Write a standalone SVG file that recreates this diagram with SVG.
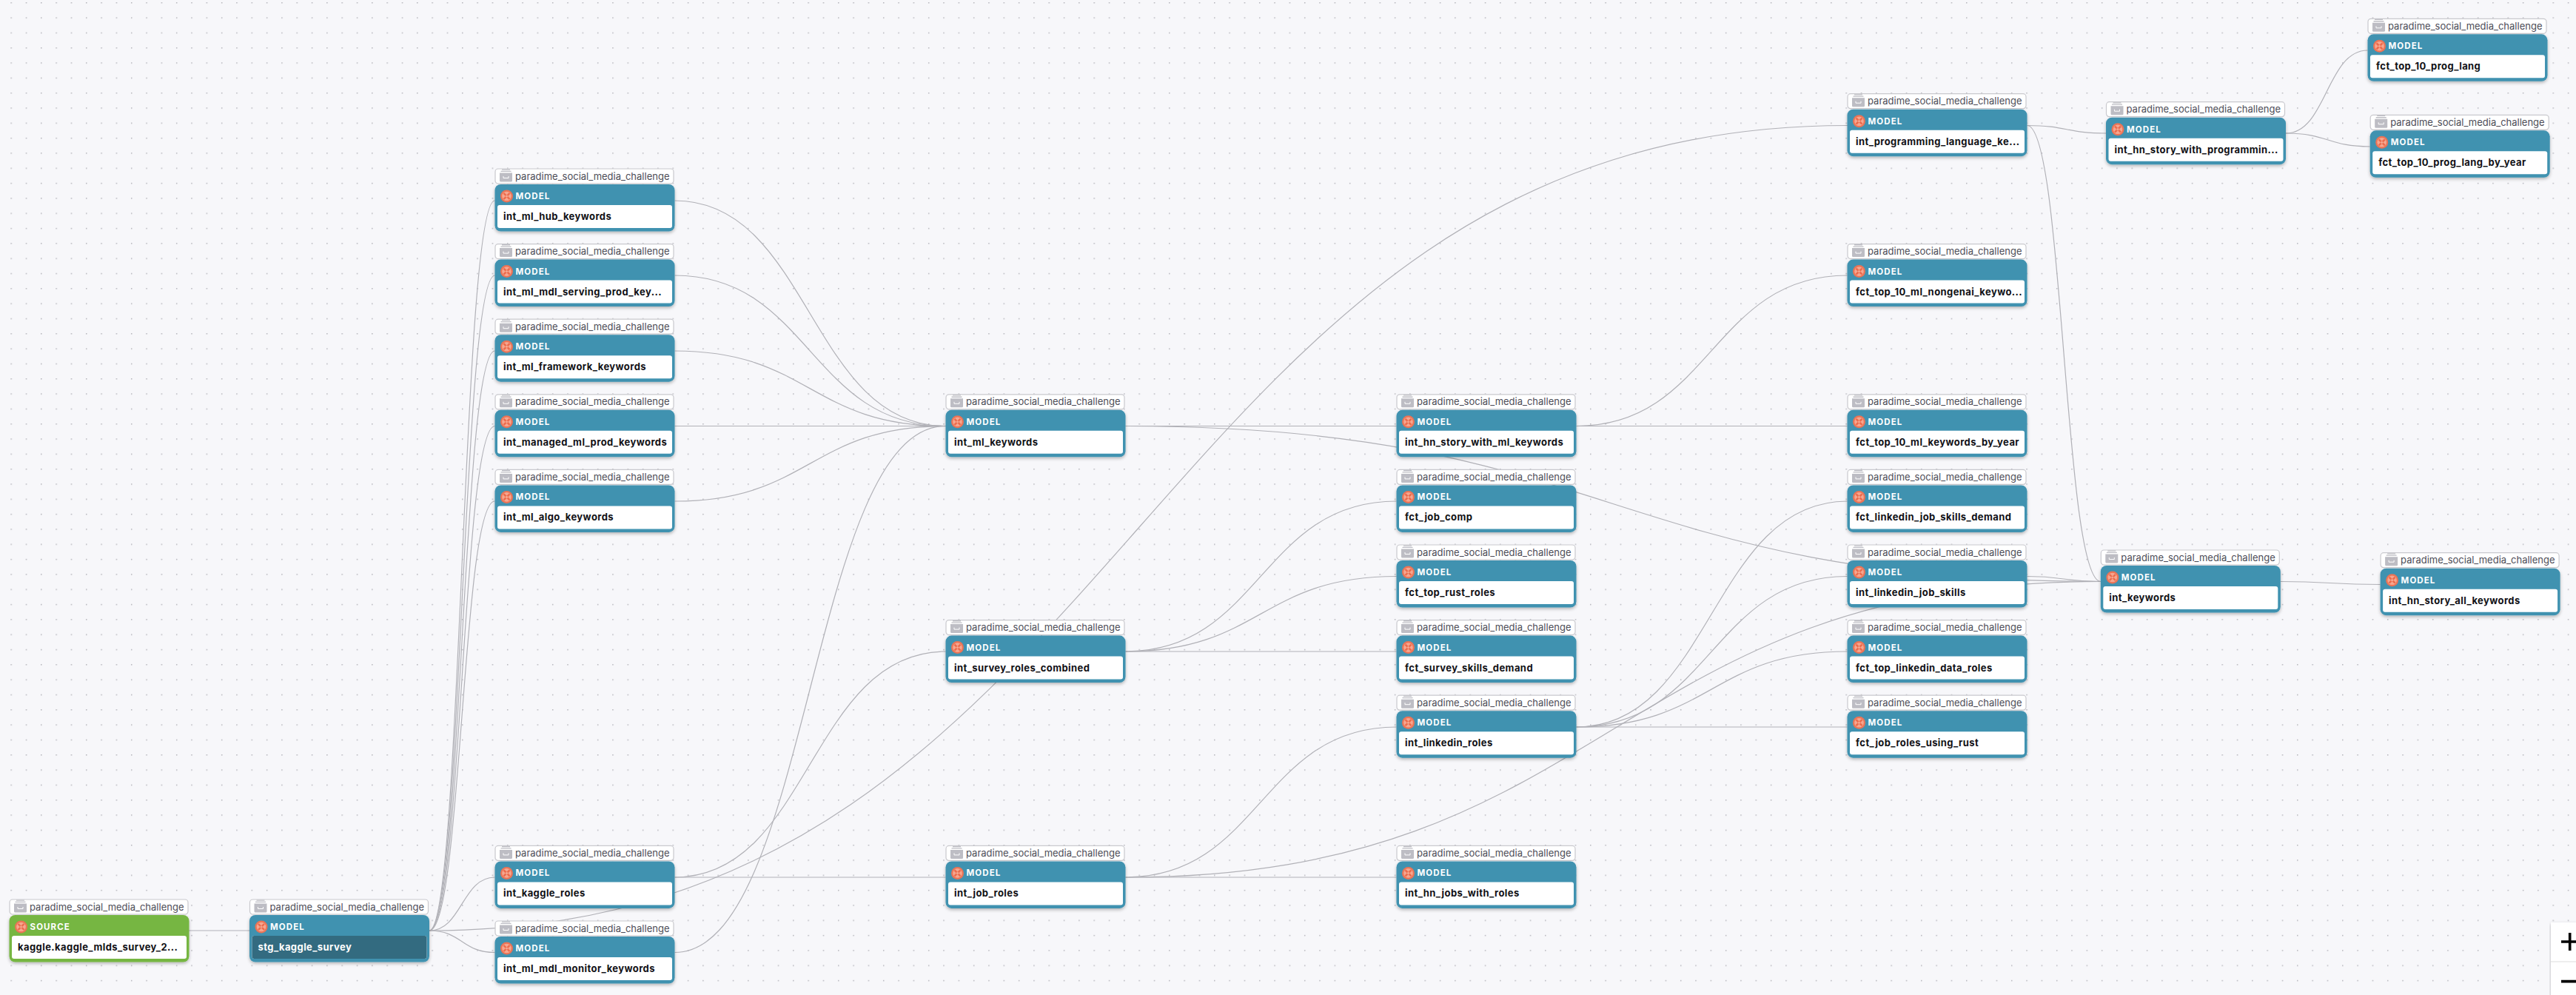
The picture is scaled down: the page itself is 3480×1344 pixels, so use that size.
<svg xmlns="http://www.w3.org/2000/svg" width="3480" height="1344" viewBox="0 0 3480 1344">
<style>
.e{fill:none;stroke:#b1b1b7;stroke-width:1.2}
.l{font:400 13px Inter,"Noto Sans",sans-serif;fill:#4d4d57}
.k{font:700 11.5px Inter,"Noto Sans",sans-serif;fill:#fff;letter-spacing:1.1px}
.n{font:700 13px Inter,"Noto Sans",sans-serif;fill:#111116;letter-spacing:.42px}
.w{fill:#fff}
</style>
<defs>
<pattern id="dots" patternUnits="userSpaceOnUse" x="14.4" y="3" width="20.32" height="20.32"><rect x="0" y="0" width="1.5" height="1.5" fill="#b4b4bb"/></pattern>
<filter id="sh" x="-5%" y="-10%" width="110%" height="125%"><feDropShadow dx="0" dy="2" stdDeviation="2" flood-color="#000" flood-opacity=".28"/></filter>
<g id="badge"><rect x=".5" y="-21" width="241" height="20" rx="4" fill="#fff" stroke="#c9c9ce" stroke-width="1.2"/><path d="M9.500-20.500h11v1.300h-11zM8-18.200h14v1.300H8z" fill="#bdbdc4"/><path d="M6.500-15.500h17v10.500a1.500 1.500 0 0 1-1.500 1.500H8a1.500 1.500 0 0 1-1.500-1.500z" fill="#bdbdc4"/><path d="M11.500-11v2.500h7V-11" fill="none" stroke="#fff" stroke-width="1"/></g>
<g id="icon"><circle cx="16" cy="16" r="8.500" fill="#ec7355"/><circle cx="16" cy="16" r="6.300" fill="#f6a68f"/><path d="M12 12l8 8M20 12l-8 8" stroke="#ec6a4b" stroke-width="2.400"/><circle cx="16" cy="16" r="1.600" fill="#f6a68f"/></g>
<g id="model"><use href="#badge"/><g filter="url(#sh)"><rect width="243" height="63.500" rx="8" fill="#3f92b0"/></g><rect x="3.500" y="28" width="236" height="31" rx="3" class="w"/><use href="#icon"/></g>
</defs>
<rect width="3480" height="1344" fill="#f7f7fa"/>
<rect width="3480" height="1344" fill="url(#dots)"/>
<g id="connectors">
<path class="e" d="M255 1257H337"/>
<path class="e" d="M580 1257C624 1257 624 271 668.500 271"/>
<path class="e" d="M580 1257C624 1257 624 372 668.500 372"/>
<path class="e" d="M580 1257C624 1257 624 474 668.500 474"/>
<path class="e" d="M580 1257C624 1257 624 575.500 668.500 575.500"/>
<path class="e" d="M580 1257C624 1257 624 677 668.500 677"/>
<path class="e" d="M580 1257C624 1257 624 1185 668.500 1185"/>
<path class="e" d="M580 1257C624 1257 624 1286.500 668.500 1286.500"/>
<path class="e" d="M580 1257C1538 1257 1538 169.500 2496 169.500"/>
<path class="e" d="M911.500 271C1094 271 1094 575.500 1277.500 575.500"/>
<path class="e" d="M911.500 372C1094 372 1094 575.500 1277.500 575.500"/>
<path class="e" d="M911.500 474C1094 474 1094 575.500 1277.500 575.500"/>
<path class="e" d="M911.500 575.500H1277.500"/>
<path class="e" d="M911.500 677C1094 677 1094 575.500 1277.500 575.500"/>
<path class="e" d="M911.500 1286.500C1094 1286.500 1094 575.500 1277.500 575.500"/>
<path class="e" d="M911.500 1185C1094 1185 1094 880 1277.500 880"/>
<path class="e" d="M911.500 1185H1277.500"/>
<path class="e" d="M1520.500 575.500H1886.500"/>
<path class="e" d="M1520.500 575.500C2179 575.500 2179 785.500 2838 785.500"/>
<path class="e" d="M1520.500 880C1703 880 1703 677 1886.500 677"/>
<path class="e" d="M1520.500 880C1703 880 1703 778.500 1886.500 778.500"/>
<path class="e" d="M1520.500 880H1886.500"/>
<path class="e" d="M1520.500 1185C1703 1185 1703 982 1886.500 982"/>
<path class="e" d="M1520.500 1185H1886.500"/>
<path class="e" d="M1520.500 1185C2179 1185 2179 785.500 2838 785.500"/>
<path class="e" d="M2129.500 575.500C2312 575.500 2312 372 2495.500 372"/>
<path class="e" d="M2129.500 575.500H2495.500"/>
<path class="e" d="M2129.500 982C2312 982 2312 677 2495.500 677"/>
<path class="e" d="M2129.500 982C2312 982 2312 778.500 2495.500 778.500"/>
<path class="e" d="M2129.500 982C2312 982 2312 880 2495.500 880"/>
<path class="e" d="M2129.500 982H2495.500"/>
<path class="e" d="M2738.500 778.500C2788 778.500 2788 785.500 2838 785.500"/>
<path class="e" d="M2738.500 169.500C2792 169.500 2792 180 2845 180"/>
<path class="e" d="M2738.500 169.500C2788 169.500 2788 785.500 2838 785.500"/>
<path class="e" d="M3088 180C3143 180 3143 68 3198.500 68"/>
<path class="e" d="M3088 180C3145 180 3145 198 3201.700 198"/>
<path class="e" d="M3081 785.500C3148 785.500 3148 789.500 3215.600 789.500"/>
</g>
<g id="kaggle_source" transform="translate(12.500 1236)"><use href="#badge"/><g filter="url(#sh)"><rect width="243" height="63.500" rx="8" fill="#76b643"/></g><rect x="3.500" y="28" width="236" height="31" rx="3" class="w"/><use href="#icon"/><text class="l" x="27.500" y="-6.500">paradime_social_media_challenge</text><text class="k" x="28" y="20">SOURCE</text><text class="n" x="11.500" y="48">kaggle.kaggle_mlds_survey_2...</text></g>
<g id="stg_kaggle_survey" transform="translate(337 1236)"><use href="#model"/><rect x="3.500" y="28" width="236" height="31" rx="3" fill="#336b80"/><text class="l" x="27.500" y="-6.500">paradime_social_media_challenge</text><text class="k" x="28" y="20">MODEL</text><text class="n" x="11.500" y="48" style="fill:#fff">stg_kaggle_survey</text></g>
<g id="int_ml_hub_keywords" transform="translate(668.500 249)"><use href="#model"/><text class="l" x="27.500" y="-6.500">paradime_social_media_challenge</text><text class="k" x="28" y="20">MODEL</text><text class="n" x="11.500" y="48">int_ml_hub_keywords</text></g>
<g id="int_ml_mdl_serving_prod_keywords" transform="translate(668.500 350.600)"><use href="#model"/><text class="l" x="27.500" y="-6.500">paradime_social_media_challenge</text><text class="k" x="28" y="20">MODEL</text><text class="n" x="11.500" y="48">int_ml_mdl_serving_prod_key...</text></g>
<g id="int_ml_framework_keywords" transform="translate(668.500 452.200)"><use href="#model"/><text class="l" x="27.500" y="-6.500">paradime_social_media_challenge</text><text class="k" x="28" y="20">MODEL</text><text class="n" x="11.500" y="48">int_ml_framework_keywords</text></g>
<g id="int_managed_ml_prod_keywords" transform="translate(668.500 553.800)"><use href="#model"/><text class="l" x="27.500" y="-6.500">paradime_social_media_challenge</text><text class="k" x="28" y="20">MODEL</text><text class="n" x="11.500" y="48">int_managed_ml_prod_keywords</text></g>
<g id="int_ml_algo_keywords" transform="translate(668.500 655.400)"><use href="#model"/><text class="l" x="27.500" y="-6.500">paradime_social_media_challenge</text><text class="k" x="28" y="20">MODEL</text><text class="n" x="11.500" y="48">int_ml_algo_keywords</text></g>
<g id="int_kaggle_roles" transform="translate(668.500 1163.400)"><use href="#model"/><text class="l" x="27.500" y="-6.500">paradime_social_media_challenge</text><text class="k" x="28" y="20">MODEL</text><text class="n" x="11.500" y="48">int_kaggle_roles</text></g>
<g id="int_ml_mdl_monitor_keywords" transform="translate(668.500 1265)"><use href="#model"/><text class="l" x="27.500" y="-6.500">paradime_social_media_challenge</text><text class="k" x="28" y="20">MODEL</text><text class="n" x="11.500" y="48">int_ml_mdl_monitor_keywords</text></g>
<g id="int_ml_keywords" transform="translate(1277.500 553.800)"><use href="#model"/><text class="l" x="27.500" y="-6.500">paradime_social_media_challenge</text><text class="k" x="28" y="20">MODEL</text><text class="n" x="11.500" y="48">int_ml_keywords</text></g>
<g id="int_survey_roles_combined" transform="translate(1277.500 858.600)"><use href="#model"/><text class="l" x="27.500" y="-6.500">paradime_social_media_challenge</text><text class="k" x="28" y="20">MODEL</text><text class="n" x="11.500" y="48">int_survey_roles_combined</text></g>
<g id="int_job_roles" transform="translate(1277.500 1163.400)"><use href="#model"/><text class="l" x="27.500" y="-6.500">paradime_social_media_challenge</text><text class="k" x="28" y="20">MODEL</text><text class="n" x="11.500" y="48">int_job_roles</text></g>
<g id="int_hn_story_with_ml_keywords" transform="translate(1886.500 553.800)"><use href="#model"/><text class="l" x="27.500" y="-6.500">paradime_social_media_challenge</text><text class="k" x="28" y="20">MODEL</text><text class="n" x="11.500" y="48">int_hn_story_with_ml_keywords</text></g>
<g id="fct_job_comp" transform="translate(1886.500 655.400)"><use href="#model"/><text class="l" x="27.500" y="-6.500">paradime_social_media_challenge</text><text class="k" x="28" y="20">MODEL</text><text class="n" x="11.500" y="48">fct_job_comp</text></g>
<g id="fct_top_rust_roles" transform="translate(1886.500 757)"><use href="#model"/><text class="l" x="27.500" y="-6.500">paradime_social_media_challenge</text><text class="k" x="28" y="20">MODEL</text><text class="n" x="11.500" y="48">fct_top_rust_roles</text></g>
<g id="fct_survey_skills_demand" transform="translate(1886.500 858.600)"><use href="#model"/><text class="l" x="27.500" y="-6.500">paradime_social_media_challenge</text><text class="k" x="28" y="20">MODEL</text><text class="n" x="11.500" y="48">fct_survey_skills_demand</text></g>
<g id="int_linkedin_roles" transform="translate(1886.500 960.200)"><use href="#model"/><text class="l" x="27.500" y="-6.500">paradime_social_media_challenge</text><text class="k" x="28" y="20">MODEL</text><text class="n" x="11.500" y="48">int_linkedin_roles</text></g>
<g id="int_hn_jobs_with_roles" transform="translate(1886.500 1163.400)"><use href="#model"/><text class="l" x="27.500" y="-6.500">paradime_social_media_challenge</text><text class="k" x="28" y="20">MODEL</text><text class="n" x="11.500" y="48">int_hn_jobs_with_roles</text></g>
<g id="int_programming_language_keywords" transform="translate(2495.500 147.700)"><use href="#model"/><text class="l" x="27.500" y="-6.500">paradime_social_media_challenge</text><text class="k" x="28" y="20">MODEL</text><text class="n" x="11.500" y="48">int_programming_language_ke...</text></g>
<g id="fct_top_10_ml_nongenai_keywords" transform="translate(2495.500 350.600)"><use href="#model"/><text class="l" x="27.500" y="-6.500">paradime_social_media_challenge</text><text class="k" x="28" y="20">MODEL</text><text class="n" x="11.500" y="48">fct_top_10_ml_nongenai_keywo...</text></g>
<g id="fct_top_10_ml_keywords_by_year" transform="translate(2495.500 553.800)"><use href="#model"/><text class="l" x="27.500" y="-6.500">paradime_social_media_challenge</text><text class="k" x="28" y="20">MODEL</text><text class="n" x="11.500" y="48">fct_top_10_ml_keywords_by_year</text></g>
<g id="fct_linkedin_job_skills_demand" transform="translate(2495.500 655.400)"><use href="#model"/><text class="l" x="27.500" y="-6.500">paradime_social_media_challenge</text><text class="k" x="28" y="20">MODEL</text><text class="n" x="11.500" y="48">fct_linkedin_job_skills_demand</text></g>
<g id="int_linkedin_job_skills" transform="translate(2495.500 757)"><use href="#model"/><text class="l" x="27.500" y="-6.500">paradime_social_media_challenge</text><text class="k" x="28" y="20">MODEL</text><text class="n" x="11.500" y="48">int_linkedin_job_skills</text></g>
<g id="fct_top_linkedin_data_roles" transform="translate(2495.500 858.600)"><use href="#model"/><text class="l" x="27.500" y="-6.500">paradime_social_media_challenge</text><text class="k" x="28" y="20">MODEL</text><text class="n" x="11.500" y="48">fct_top_linkedin_data_roles</text></g>
<g id="fct_job_roles_using_rust" transform="translate(2495.500 960.200)"><use href="#model"/><text class="l" x="27.500" y="-6.500">paradime_social_media_challenge</text><text class="k" x="28" y="20">MODEL</text><text class="n" x="11.500" y="48">fct_job_roles_using_rust</text></g>
<g id="int_hn_story_with_programming" transform="translate(2845 158.700)"><use href="#model"/><text class="l" x="27.500" y="-6.500">paradime_social_media_challenge</text><text class="k" x="28" y="20">MODEL</text><text class="n" x="11.500" y="48">int_hn_story_with_programmin...</text></g>
<g id="fct_top_10_prog_lang" transform="translate(3198.500 46.300)"><use href="#model"/><text class="l" x="27.500" y="-6.500">paradime_social_media_challenge</text><text class="k" x="28" y="20">MODEL</text><text class="n" x="11.500" y="48">fct_top_10_prog_lang</text></g>
<g id="fct_top_10_prog_lang_by_year" transform="translate(3201.700 176.300)"><use href="#model"/><text class="l" x="27.500" y="-6.500">paradime_social_media_challenge</text><text class="k" x="28" y="20">MODEL</text><text class="n" x="11.500" y="48">fct_top_10_prog_lang_by_year</text></g>
<g id="int_keywords" transform="translate(2837.800 764)"><use href="#model"/><text class="l" x="27.500" y="-6.500">paradime_social_media_challenge</text><text class="k" x="28" y="20">MODEL</text><text class="n" x="11.500" y="48">int_keywords</text></g>
<g id="int_hn_story_all_keywords" transform="translate(3215.600 767.700)"><use href="#model"/><text class="l" x="27.500" y="-6.500">paradime_social_media_challenge</text><text class="k" x="28" y="20">MODEL</text><text class="n" x="11.500" y="48">int_hn_story_all_keywords</text></g>
<g id="zoom_controls"><rect x="3446" y="1246" width="36" height="100" fill="#eee" filter="url(#sh)"/><rect x="3446" y="1246" width="36" height="52" fill="#fff"/><rect x="3446" y="1300" width="36" height="46" fill="#fff"/><path d="M3460 1272h24M3471.700 1260v24M3460 1325.600h24" stroke="#000" stroke-width="3.600" fill="none"/></g>
</svg>
